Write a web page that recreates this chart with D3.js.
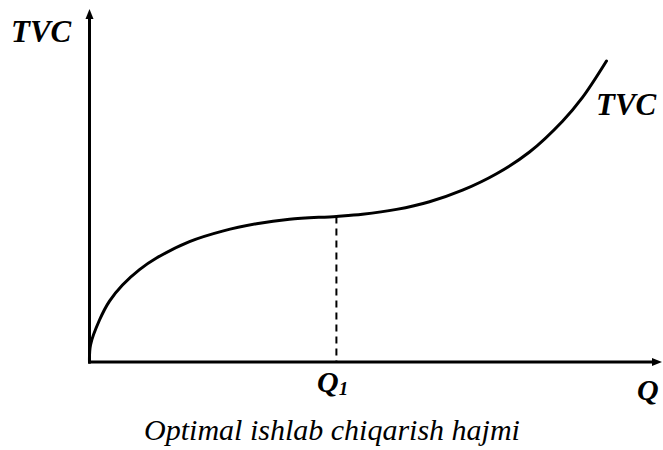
<!DOCTYPE html>
<html>
<head>
<meta charset="utf-8">
<script src="https://cdn.jsdelivr.net/npm/d3@7"></script>
<style>
  html, body { margin: 0; padding: 0; background: #fff; }
  svg { display: block; }
</style>
</head>
<body>
<svg id="chart" width="663" height="450"></svg>
<script>
// Output quantity Q (relative units) along the TVC curve
const quantity = [0, 0.18, 1.77, 3.54, 5.84, 8.85, 11.86, 17.70, 23.54, 29.56, 35.40, 43.70,
                  48.32, 54.34, 60.18, 66.02, 72.04, 77.88, 83.72, 87.26, 91.50];
// Total variable cost at each quantity (relative units)
const tvc = [0, 4.9, 12.0, 17.4, 22.0, 26.4, 29.7, 34.4, 37.4, 39.5, 40.8, 41.6,
             42.2, 43.6, 45.8, 49.1, 53.8, 60.0, 68.8, 75.6, 86.0];
// Optimal output level, marked with a dashed drop line
const q1 = 43.70;
const q1Cost = 41.6;

const axisLabels = { y: "TVC", x: "Q", curve: "TVC", q1: "Q", q1Sub: "1" };
const caption = "Optimal ishlab chiqarish hajmi";

const svg = d3.select("#chart");

const x = d3.scaleLinear().domain([0, 100]).range([89.5, 654.5]);
const y = d3.scaleLinear().domain([0, 100]).range([362, 12]);

// Axes with filled arrowheads
svg.append("line")
  .attr("x1", x(0)).attr("y1", y(0) + 1.5)
  .attr("x2", x(0)).attr("y2", 18)
  .attr("stroke", "#000").attr("stroke-width", 3);
svg.append("path")
  .attr("d", `M${x(0)},9 L${x(0) - 4},19 L${x(0) + 4},19 Z`)
  .attr("fill", "#000");

svg.append("line")
  .attr("x1", x(0) - 1.5).attr("y1", y(0))
  .attr("x2", 654).attr("y2", y(0))
  .attr("stroke", "#000").attr("stroke-width", 3);
svg.append("path")
  .attr("d", `M662,${y(0)} L652,${y(0) - 4} L652,${y(0) + 4} Z`)
  .attr("fill", "#000");

// Dashed drop line from the curve at Q1 to the Q axis
svg.append("line")
  .attr("x1", x(q1)).attr("y1", y(q1Cost))
  .attr("x2", x(q1)).attr("y2", y(0))
  .attr("stroke", "#000").attr("stroke-width", 2)
  .attr("stroke-dasharray", "7,5");

// TVC curve
const line = d3.line()
  .x((d, i) => x(quantity[i]))
  .y(d => y(d))
  .curve(d3.curveCatmullRom.alpha(0.5));

svg.append("path")
  .attr("d", line(tvc))
  .attr("fill", "none")
  .attr("stroke", "#000")
  .attr("stroke-width", 3)
  .attr("stroke-linecap", "round");

// Labels
function label(txt, px, py, size, weight, anchor) {
  return svg.append("text")
    .attr("x", px).attr("y", py)
    .style("font-family", "Liberation Serif")
    .attr("font-size", size)
    .attr("font-weight", weight)
    .attr("font-style", "italic")
    .attr("text-anchor", anchor || "start")
    .attr("fill", "#000")
    .text(txt);
}

label(axisLabels.y, 11, 42, 31, "bold");
label(axisLabels.curve, 596, 115, 31, "bold");

const q1Label = label("", 317, 392, 30, "bold");
q1Label.append("tspan").text(axisLabels.q1);
q1Label.append("tspan").attr("font-size", 19).attr("dy", 3).text(axisLabels.q1Sub);

label(axisLabels.x, 637, 400, 30, "bold");
label(caption, 332, 440, 30, "normal", "middle");
</script>
</body>
</html>
